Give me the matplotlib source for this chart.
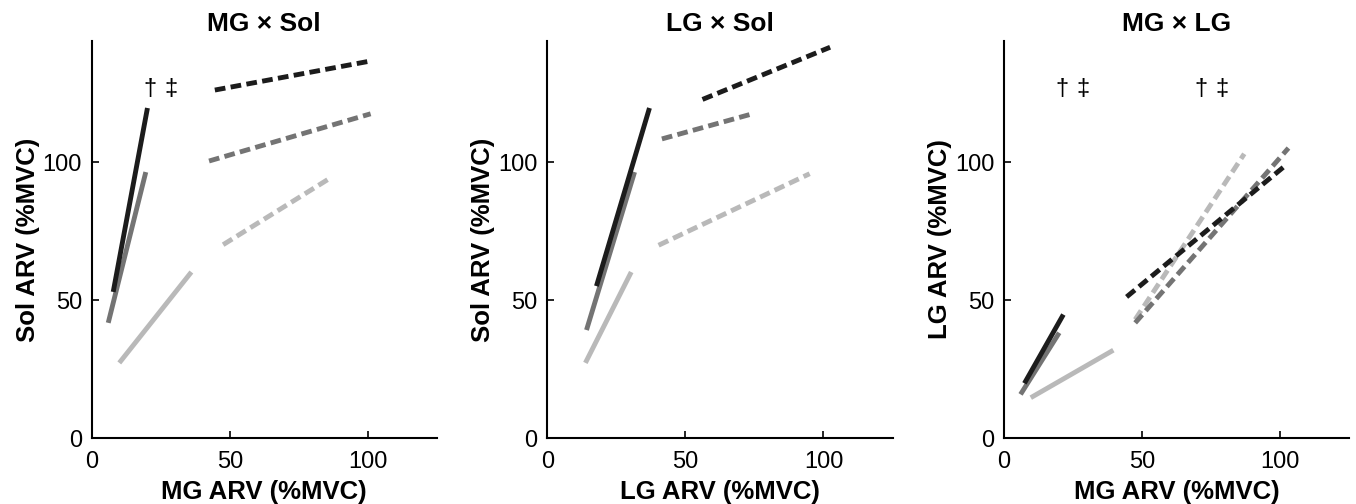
import matplotlib
matplotlib.use("Agg")
import matplotlib.pyplot as plt

plt.rcParams["font.family"] = ["Liberation Sans", "DejaVu Sans"]

# shared colours for the three conditions (solid = low, dashed = high)
colors = ["#1c1c1c", "#747474", "#b9b9b9"]

# panel 1: MG x Sol  -- each line: [x0, x1], [y0, y1]
p1_solid_x = [[7.8, 20.2], [6.0, 19.6], [10.0, 36.1]]
p1_solid_y = [[53.0, 119.6], [41.8, 96.4], [27.3, 60.2]]
p1_dash_x = [[44.6, 99.8], [42.5, 101.0], [47.6, 85.5]]
p1_dash_y = [[126.1, 136.4], [100.4, 117.5], [70.1, 93.7]]

# panel 2: LG x Sol
p2_solid_x = [[17.8, 37.0], [14.2, 31.6], [13.8, 30.4]]
p2_solid_y = [[55.1, 119.6], [39.2, 96.4], [27.3, 60.2]]
p2_dash_x = [[56.2, 102.4], [41.5, 73.2], [40.3, 95.0]]
p2_dash_y = [[122.7, 141.6], [108.4, 117.2], [69.9, 95.8]]

# panel 3: MG x LG
p3_solid_x = [[7.4, 21.5], [6.0, 20.0], [9.7, 39.6]]
p3_solid_y = [[19.9, 44.8], [15.9, 38.2], [14.7, 31.9]]
p3_dash_x = [[44.4, 101.2], [47.5, 103.0], [47.5, 87.0]]
p3_dash_y = [[51.2, 98.2], [41.8, 105.1], [43.0, 103.0]]

titles = ["MG \u00d7 Sol", "LG \u00d7 Sol", "MG \u00d7 LG"]
xlabels = ["MG ARV (%MVC)", "LG ARV (%MVC)", "MG ARV (%MVC)"]
ylabels = ["Sol ARV (%MVC)", "Sol ARV (%MVC)", "LG ARV (%MVC)"]
ticks = [0, 50, 100]

# significance marks: (x of dagger, x of double dagger, y)
marks = [[(21.1, 28.9, 126.5)], [], [(21.1, 28.7, 126.5), (71.4, 78.9, 126.5)]]

panels = [
    (p1_solid_x, p1_solid_y, p1_dash_x, p1_dash_y),
    (p2_solid_x, p2_solid_y, p2_dash_x, p2_dash_y),
    (p3_solid_x, p3_solid_y, p3_dash_x, p3_dash_y),
]
lefts = [0.0676, 0.4036, 0.7404]

fig = plt.figure(figsize=(13.56, 5.04), dpi=100)

for i, (sx, sy, dx, dy) in enumerate(panels):
    ax = fig.add_axes([lefts[i], 0.1304, 0.2546, 0.789])
    # draw light ones first so dark ones sit on top
    for k in [2, 1, 0]:
        ax.plot(sx[k], sy[k], color=colors[k], linewidth=3.5, solid_capstyle="butt")
    for k in [2, 1, 0]:
        ax.plot(dx[k], dy[k], color=colors[k], linewidth=3.5,
                dashes=(2.2, 1.1), dash_capstyle="butt")
    for (xa, xb, yy) in marks[i]:
        ax.text(xa, yy, "\u2020", ha="center", va="center", fontsize=17)
        ax.text(xb, yy, "\u2021", ha="center", va="center", fontsize=17)
    ax.set_xlim(0, 125)
    ax.set_ylim(0, 144)
    ax.set_xticks(ticks)
    ax.set_yticks(ticks)
    ax.spines["top"].set_visible(False)
    ax.spines["right"].set_visible(False)
    ax.spines["left"].set_linewidth(1.5)
    ax.spines["bottom"].set_linewidth(1.5)
    ax.tick_params(direction="in", length=5, width=1.2, labelsize=17)
    ax.tick_params(axis="x", pad=9)
    ax.tick_params(axis="y", pad=7)
    ax.set_title(titles[i], fontsize=19, fontweight="bold", pad=7)
    ax.set_xlabel(xlabels[i], fontsize=18.5, fontweight="bold", labelpad=5)
    ax.set_ylabel(ylabels[i], fontsize=18.5, fontweight="bold", labelpad=2)

plt.savefig("out.png", dpi=100)
